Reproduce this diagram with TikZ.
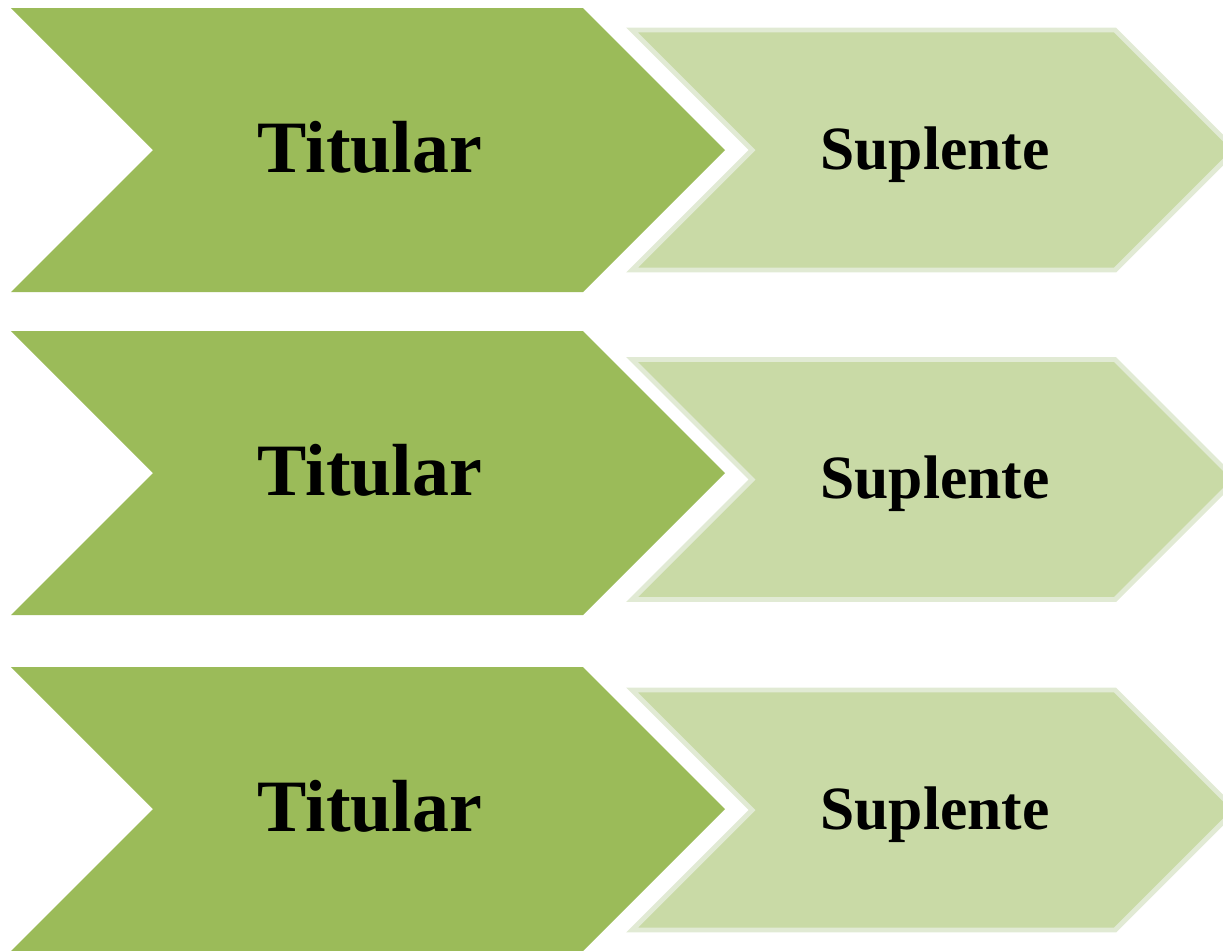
\documentclass[tikz,border=0pt]{standalone}
\usepackage{fontspec}
\setmainfont{Liberation Serif}
\definecolor{verde}{HTML}{9BBB59}
\definecolor{verdeclaro}{HTML}{C9DAA6}
\definecolor{bordeclaro}{HTML}{E1EAD4}
\tikzset{
  titular/.style={fill=verde},
  suplente/.style={fill=verdeclaro, draw=bordeclaro, line width=1.4pt, line join=miter},
  textotit/.style={anchor=base, font=\fontsize{21}{24}\selectfont\bfseries},
  textosup/.style={anchor=base, font=\fontsize{17.5}{20}\selectfont\bfseries},
}
\begin{document}
\begin{tikzpicture}[x=0.01cm, y=-0.01cm]
\useasboundingbox (0,0) rectangle (1223,950);
\foreach \yb/\ys [count=\i] in {150/150, 473/479.5, 809/810} {
  % flecha grande
  \fill[titular] (11,\yb-142) -- (583,\yb-142) -- (725,\yb) -- (583,\yb+142)
    -- (11,\yb+142) -- (153,\yb) -- cycle;
  \node[textotit] (tit\i) at (370,\yb+22) {Titular};
  % flecha pequena
  \draw[suplente] (632,\ys-120) -- (1115,\ys-120) -- (1235,\ys) -- (1115,\ys+120)
    -- (632,\ys+120) -- (752,\ys) -- cycle;
  \node[textosup] (sup\i) at (935,\ys+19) {Suplente};
}
\end{tikzpicture}
\end{document}
